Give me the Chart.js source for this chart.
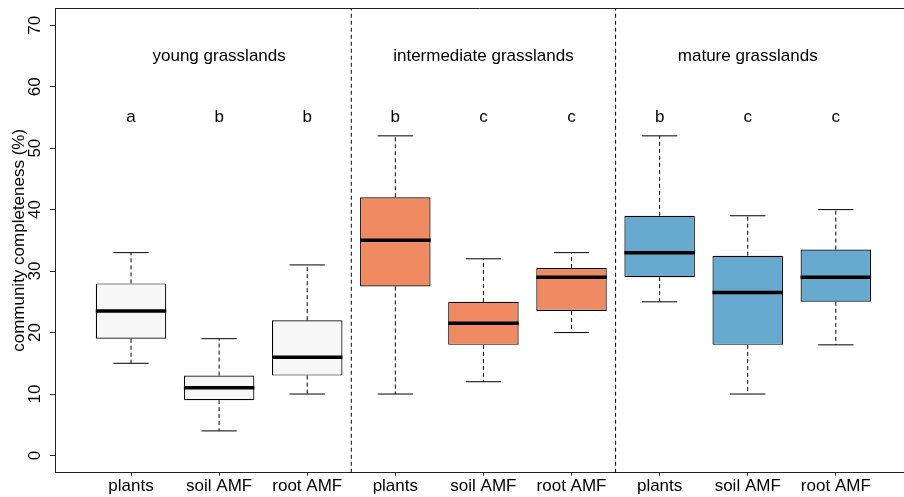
<!DOCTYPE html>
<html>
<head>
<meta charset="utf-8">
<script src="https://cdn.jsdelivr.net/npm/chart.js@4.4.0/dist/chart.umd.min.js"></script>
<style>
  html, body { margin: 0; padding: 0; background: #fff; }
  #wrap { width: 904px; height: 497px; }
</style>
</head>
<body>
<div id="wrap"><canvas id="chart"></canvas></div>
<script>
// groups and boxes
const groupNames = ['young grasslands', 'intermediate grasslands', 'mature grasslands'];
const groupColors = ['#F7F7F7', '#EF8A62', '#67A9CF'];
const xLabels = ['plants', 'soil AMF', 'root AMF', 'plants', 'soil AMF', 'root AMF', 'plants', 'soil AMF', 'root AMF'];
const letters = ['a', 'b', 'b', 'b', 'c', 'c', 'b', 'c', 'c'];

// five-number summaries
const whiskerLow  = [15, 4, 10, 10, 12, 20, 25, 10, 18];
const q1          = [19, 9, 13, 27.5, 18, 23.5, 29, 18, 25];
const median      = [23.5, 11, 16, 35, 21.5, 29, 33, 26.5, 29];
const q3          = [28, 13, 22, 42, 25, 30.5, 39, 32.5, 33.5];
const whiskerHigh = [33, 19, 31, 52, 32, 33, 52, 39, 40];

const yTicks = [0, 10, 20, 30, 40, 50, 60, 70];
const separators = [2.5, 5.5];
const groupLabelY = 65;
const letterY = 55;

const yMin = -2.8, yMax = 72.8;
const xMin = -0.863, xMax = 8.774;

Chart.defaults.font.family = '"Liberation Sans", Arial, sans-serif';
Chart.defaults.font.size = 17;
Chart.defaults.color = '#000';

// turn [x1, y1, x2, y2] pieces into one broken line
function segments(list) {
    const out = [];
    list.forEach(s => {
        out.push({x: s[0], y: s[1]}, {x: s[2], y: s[3]}, {x: s[2], y: null});
    });
    return out;
}

const idx = xLabels.map((_, i) => i);

const whiskerData = segments(idx.flatMap(i => [
    [i, q3[i], i, whiskerHigh[i]],
    [i, q1[i], i, whiskerLow[i]]
]));
const capData = segments(idx.flatMap(i => [
    [i - 0.2, whiskerHigh[i], i + 0.2, whiskerHigh[i]],
    [i - 0.2, whiskerLow[i], i + 0.2, whiskerLow[i]]
]));
const medianData = segments(idx.map(i => [i - 0.4, median[i], i + 0.4, median[i]]));
const sepData = segments(separators.map(s => [s, yMin, s, yMax]));

const lineBase = {
    type: 'line',
    pointRadius: 0,
    fill: false,
    tension: 0,
    spanGaps: false,
    borderColor: '#000',
    borderCapStyle: 'butt'
};

const annotate = {
    id: 'annotate',
    afterDatasetsDraw(chart) {
        const {ctx, chartArea, scales: {x, y}} = chart;
        ctx.save();
        // top of the frame
        ctx.strokeStyle = '#222';
        ctx.lineWidth = 1;
        ctx.beginPath();
        ctx.moveTo(chartArea.left, Math.round(chartArea.top) + 0.5);
        ctx.lineTo(chartArea.right, Math.round(chartArea.top) + 0.5);
        ctx.stroke();

        ctx.fillStyle = '#000';
        ctx.font = '17px "Liberation Sans", Arial, sans-serif';
        ctx.textAlign = 'center';
        ctx.textBaseline = 'middle';
        groupNames.forEach((g, k) => {
            ctx.fillText(g, x.getPixelForValue(k * 3 + 1), y.getPixelForValue(groupLabelY));
        });
        letters.forEach((l, i) => {
            ctx.fillText(l, x.getPixelForValue(i), y.getPixelForValue(letterY));
        });
        ctx.restore();
    }
};

new Chart(document.getElementById('chart'), {
    type: 'bar',
    data: {
        datasets: [
            Object.assign({}, lineBase, {
                data: medianData, borderWidth: 3.5, order: 0
            }),
            Object.assign({}, lineBase, {
                data: capData, borderWidth: 1, order: 1
            }),
            Object.assign({}, lineBase, {
                data: whiskerData, borderWidth: 1, borderDash: [4, 3], order: 1
            }),
            {
                type: 'bar',
                data: idx.map(i => ({x: i, y: [q1[i], q3[i]]})),
                backgroundColor: idx.map(i => groupColors[Math.floor(i / 3)]),
                borderColor: '#000',
                borderWidth: 1.2,
                borderSkipped: false,
                barPercentage: 0.8,
                categoryPercentage: 1,
                order: 2
            },
            Object.assign({}, lineBase, {
                data: sepData, borderWidth: 1, borderDash: [4, 3], order: 3
            })
        ]
    },
    options: {
        responsive: true,
        maintainAspectRatio: false,
        animation: false,
        devicePixelRatio: 1,
        layout: { padding: { top: 8, right: 0, bottom: 0, left: 0 } },
        plugins: {
            legend: { display: false },
            tooltip: { enabled: false }
        },
        scales: {
            x: {
                type: 'linear',
                min: xMin,
                max: xMax,
                bounds: 'data',
                offset: false,
                grid: { display: true, drawOnChartArea: false, drawTicks: true, tickLength: 3, color: '#222', offset: false },
                border: { display: true, color: '#222', width: 1 },
                ticks: {
                    padding: 0,
                    autoSkip: false,
                    minRotation: 0,
                    maxRotation: 0,
                    callback: (v, i) => xLabels[i]
                },
                afterBuildTicks: s => { s.ticks = idx.map(i => ({value: i})); },
                afterFit: s => { s.height = 24.3; s.paddingLeft = 0; s.paddingRight = 0; }
            },
            y: {
                type: 'linear',
                min: yMin,
                max: yMax,
                grid: { display: true, drawOnChartArea: false, drawTicks: true, tickLength: 5, color: '#222' },
                border: { display: true, color: '#222', width: 1 },
                ticks: {
                    padding: 5,
                    crossAlign: 'center',
                    minRotation: 90,
                    maxRotation: 90
                },
                title: {
                    display: true,
                    text: 'community completeness (%)',
                    padding: { top: 9, bottom: 0 }
                },
                afterBuildTicks: s => { s.ticks = yTicks.map(v => ({value: v})); },
                afterFit: s => { s.width = 55; s.paddingTop = 0; s.paddingBottom = 0; }
            }
        }
    },
    plugins: [annotate]
});
</script>
</body>
</html>
